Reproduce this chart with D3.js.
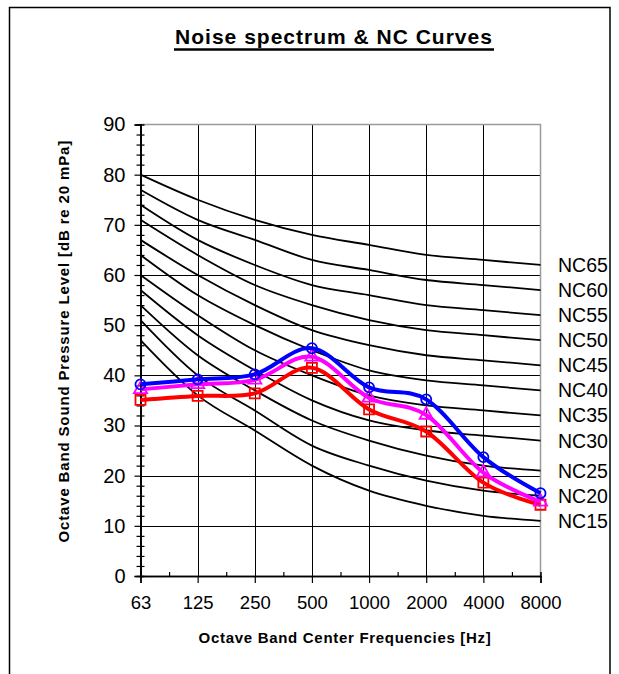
<!DOCTYPE html>
<html>
<head>
<meta charset="utf-8">
<script src="https://cdn.jsdelivr.net/npm/d3@7"></script>
<style>
  html, body { margin: 0; padding: 0; background: #fff; }
  svg { display: block; }
  text { font-family: Arial, "Liberation Sans", sans-serif; fill: #000; }
</style>
</head>
<body>
<svg id="chart" width="619" height="674"></svg>
<script>
// Octave band centre frequencies (Hz)
const categories = ["63", "125", "250", "500", "1000", "2000", "4000", "8000"];

// Noise Criteria reference curves, dB per octave band
const nc15 = [47, 36, 29, 22, 17, 14, 12, 11];
const nc20 = [51, 40, 33, 26, 22, 19, 17, 16];
const nc25 = [54, 44, 37, 31, 27, 24, 22, 21];
const nc30 = [57, 48, 41, 35, 31, 29, 28, 27];
const nc35 = [60, 52, 45, 40, 36, 34, 33, 32];
const nc40 = [64, 56, 50, 45, 41, 39, 38, 37];
const nc45 = [67, 60, 54, 49, 46, 44, 43, 42];
const nc50 = [71, 64, 58, 54, 51, 49, 48, 47];
const nc55 = [74, 67, 62, 58, 56, 54, 53, 52];
const nc60 = [77, 71, 67, 63, 61, 59, 58, 57];
const nc65 = [80, 75, 71, 68, 66, 64, 63, 62];
const ncNames = ["NC15", "NC20", "NC25", "NC30", "NC35", "NC40", "NC45", "NC50", "NC55", "NC60", "NC65"];

// Measured noise spectra, dB
const spectrumRed = [35.1, 35.9, 36.4, 41.5, 33.2, 28.8, 18.6, 14.2];
const spectrumMagenta = [37.2, 38.2, 39.1, 43.7, 35.5, 32.1, 20.6, 14.8];
const spectrumBlue = [38.2, 39.2, 40.2, 45.4, 37.6, 35.2, 23.7, 16.5];

// Axis tick values
const yMajorTicks = [0, 10, 20, 30, 40, 50, 60, 70, 80, 90];
const yMinorTicks = d3.range(0, 91, 2).filter(v => v % 10 !== 0);

const ncCurves = [nc15, nc20, nc25, nc30, nc35, nc40, nc45, nc50, nc55, nc60, nc65]
  .map((values, i) => ({ name: ncNames[i], values }));

const series = [
  { values: spectrumRed, color: "#FF0000", marker: "square" },
  { values: spectrumMagenta, color: "#FF00FF", marker: "triangle" },
  { values: spectrumBlue, color: "#0000FF", marker: "circle" }
];

const svg = d3.select("#chart");
const plot = { left: 140.5, right: 540.5, top: 124.5, bottom: 576 };

const x = d3.scalePoint().domain(categories).range([plot.left, plot.right]).padding(0);
const xIndex = d3.scaleLinear().domain([0, categories.length - 1]).range([plot.left, plot.right]);
const y = d3.scaleLinear().domain([0, 90]).range([plot.bottom, plot.top]);

// Outer frame
svg.append("rect")
  .attr("x", 9.5).attr("y", 7.5)
  .attr("width", 600.5).attr("height", 720)
  .attr("fill", "none").attr("stroke", "#000").attr("stroke-width", 1.5);

// Title
svg.append("text")
  .attr("x", 334).attr("y", 44)
  .attr("text-anchor", "middle")
  .attr("font-size", 21).attr("font-weight", "bold")
  .attr("letter-spacing", 1)
  .text("Noise spectrum & NC Curves");
svg.append("line")
  .attr("x1", 174).attr("x2", 494)
  .attr("y1", 49.5).attr("y2", 49.5)
  .attr("stroke", "#000").attr("stroke-width", 2.5);

// Gridlines
const grid = svg.append("g");
grid.selectAll("line.h")
  .data(yMajorTicks.filter(v => v > 0 && v < 90))
  .join("line")
  .attr("x1", plot.left).attr("x2", plot.right)
  .attr("y1", d => Math.round(y(d)) + 0.5).attr("y2", d => Math.round(y(d)) + 0.5)
  .attr("stroke", "#000").attr("stroke-width", 1);
grid.selectAll("line.v")
  .data(categories.slice(1, -1))
  .join("line")
  .attr("x1", d => Math.round(x(d)) + 0.5).attr("x2", d => Math.round(x(d)) + 0.5)
  .attr("y1", plot.top).attr("y2", plot.bottom)
  .attr("stroke", "#000").attr("stroke-width", 1);

// Plot area border (top and right)
svg.append("path")
  .attr("d", `M${plot.left},${plot.top}H${plot.right}V${plot.bottom}`)
  .attr("fill", "none").attr("stroke", "#9a9a9a").attr("stroke-width", 1.5);

// NC curves
const smooth = d3.line()
  .x((d, i) => x(categories[i]))
  .y(d => y(d))
  .curve(d3.curveCardinal.tension(0));

svg.append("g").selectAll("path")
  .data(ncCurves)
  .join("path")
  .attr("d", d => smooth(d.values))
  .attr("fill", "none").attr("stroke", "#000").attr("stroke-width", 1.8);

svg.append("g").selectAll("text")
  .data(ncCurves)
  .join("text")
  .attr("x", 558)
  .attr("y", d => y(d.values[d.values.length - 1]))
  .attr("dy", "0.36em")
  .attr("font-size", 19.5)
  .text(d => d.name);

// Y axis
const yAxis = svg.append("g").attr("transform", `translate(${plot.left},0)`);
yAxis.call(d3.axisLeft(y).tickValues(yMajorTicks).tickSize(6).tickPadding(9).tickFormat(d3.format("d")));
yAxis.append("g").call(d3.axisLeft(y).tickValues(yMinorTicks).tickSize(4).tickFormat(""));
yAxis.append("g").call(d3.axisRight(y).tickValues(yMinorTicks).tickSize(4).tickFormat(""));
yAxis.selectAll("text").attr("font-size", 20).style("font-family", "Arial, 'Liberation Sans', sans-serif");

// X axis
const xAxis = svg.append("g").attr("transform", `translate(0,${plot.bottom})`);
xAxis.call(d3.axisBottom(x).tickSize(7).tickPadding(13));
xAxis.append("g").call(d3.axisTop(xIndex).tickValues(d3.range(0.5, categories.length - 1, 1)).tickSize(4).tickFormat(""));
xAxis.selectAll("text").attr("font-size", 18.5).style("font-family", "Arial, 'Liberation Sans', sans-serif");

svg.selectAll(".domain").attr("stroke", "#000").attr("stroke-width", 1.5);
svg.selectAll(".tick line").attr("stroke", "#000").attr("stroke-width", 1.2);

// Axis titles
svg.append("text")
  .attr("transform", `translate(69,${(plot.top + plot.bottom) / 2 - 9}) rotate(-90)`)
  .attr("text-anchor", "middle")
  .attr("font-size", 15).attr("font-weight", "bold")
  .attr("letter-spacing", 0.85)
  .text("Octave Band Sound Pressure Level [dB re 20 mPa]");
svg.append("text")
  .attr("x", 345).attr("y", 643)
  .attr("text-anchor", "middle")
  .attr("font-size", 15).attr("font-weight", "bold")
  .attr("letter-spacing", 0.7)
  .text("Octave Band Center Frequencies [Hz]");

// Measured spectra with markers
const markerPath = {
  square: d3.symbol(d3.symbolSquare, 100)(),
  triangle: d3.symbol(d3.symbolTriangle, 75)(),
  circle: d3.symbol(d3.symbolCircle, 80)()
};

series.forEach(s => {
  const g = svg.append("g");
  g.append("path")
    .attr("d", smooth(s.values))
    .attr("fill", "none").attr("stroke", s.color).attr("stroke-width", 4)
    .attr("stroke-linejoin", "round");
  g.selectAll("path.marker")
    .data(s.values)
    .join("path")
    .attr("class", "marker")
    .attr("transform", (d, i) => `translate(${x(categories[i])},${y(d)})`)
    .attr("d", markerPath[s.marker])
    .attr("fill", "none").attr("stroke", s.color).attr("stroke-width", 1.8);
});
</script>
</body>
</html>
